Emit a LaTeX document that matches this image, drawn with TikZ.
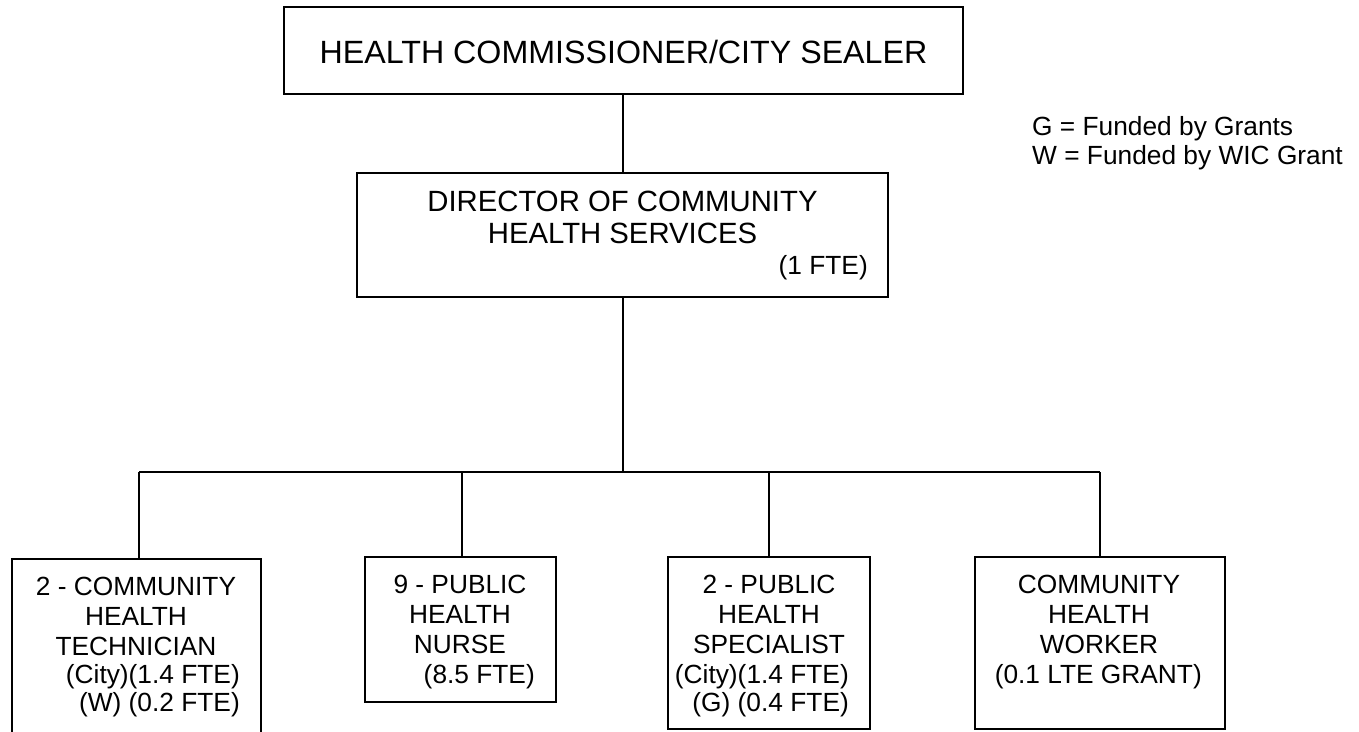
\documentclass[tikz,border=0pt]{standalone}
\usepackage{fontspec}
\setmainfont{Liberation Sans}
\begin{document}
\begin{tikzpicture}[x=1pt,y=-1pt,
  box/.style={draw=black,line width=1.7pt,rectangle,inner sep=0pt},
  conn/.style={draw=black,line width=1.7pt},
  txt/.style={inner sep=0pt,anchor=base,font=\fontsize{26.3}{30}\selectfont},
  txtr/.style={txt,anchor=base east},
  txtl/.style={txt,anchor=base west}]
\useasboundingbox (0,0) rectangle (1359,731);
\fill[white] (0,0) rectangle (1359,731);
% boxes
\node[box,minimum width=679pt,minimum height=87pt] (top) at (623.5,50.5) {};
\node[box,minimum width=531pt,minimum height=124pt] (dir) at (622.5,235) {};
\node[box,minimum width=249pt,minimum height=200pt] (b1) at (136.5,659) {};
\node[box,minimum width=191pt,minimum height=145pt] (b2) at (460.5,629.5) {};
\node[box,minimum width=202pt,minimum height=172pt] (b3) at (769,643) {};
\node[box,minimum width=250pt,minimum height=172pt] (b4) at (1100,643) {};
% texts
\node[txt,font=\fontsize{32.2}{36}\selectfont] (t0) at (623.5,63) {HEALTH COMMISSIONER/CITY SEALER};
\node[txt,font=\fontsize{29.3}{33}\selectfont] (d1) at (622.5,211) {DIRECTOR OF COMMUNITY};
\node[txt,font=\fontsize{29.3}{33}\selectfont] (d2) at (622.5,243) {HEALTH SERVICES};
\node[txtr] (d3) at (868,274) {(1 FTE)};
\node[txt] (a1) at (136,595) {2 - COMMUNITY};
\node[txt] (a2) at (136,625) {HEALTH};
\node[txt] (a3) at (136,655) {TECHNICIAN};
\node[txtr] (a4) at (240,683) {(City)(1.4 FTE)};
\node[txtr] (a5) at (240,711) {(W) (0.2 FTE)};
\node[txt] (c1) at (460,593) {9 - PUBLIC};
\node[txt] (c2) at (460,623) {HEALTH};
\node[txt] (c3) at (460,653) {NURSE};
\node[txtr] (c4) at (535,683) {(8.5 FTE)};
\node[txt] (e1) at (769,593) {2 - PUBLIC};
\node[txt] (e2) at (769,623) {HEALTH};
\node[txt] (e3) at (769,653) {SPECIALIST};
\node[txtr] (e4) at (849,683) {(City)(1.4 FTE)};
\node[txtr] (e5) at (849,711) {(G) (0.4 FTE)};
\node[txt] (f1) at (1099,593) {COMMUNITY};
\node[txt] (f2) at (1099,623) {HEALTH};
\node[txt] (f3) at (1099,653) {WORKER};
\node[txtr] (f4) at (1202,683) {(0.1 LTE GRANT)};
\node[txtl] (g1) at (1032,135) {G = Funded by Grants};
\node[txtl] (g2) at (1032,164) {W = Funded by WIC Grant};
% connectors
\coordinate (j1) at (139,472);
\coordinate (j2) at (462,472);
\coordinate (j3) at (769,472);
\coordinate (j4) at (1100,472);
\coordinate (jm) at (623,472);
\draw[conn] (top.south -| jm) -- (dir.north -| jm);
\draw[conn] (dir.south -| jm) -- (jm);
\draw[conn] (j1) -- (j4);
\draw[conn] (j1) -- (j1 |- b1.north);
\draw[conn] (j2) -- (j2 |- b2.north);
\draw[conn] (j3) -- (j3 |- b3.north);
\draw[conn] (j4) -- (j4 |- b4.north);
\end{tikzpicture}
\end{document}
